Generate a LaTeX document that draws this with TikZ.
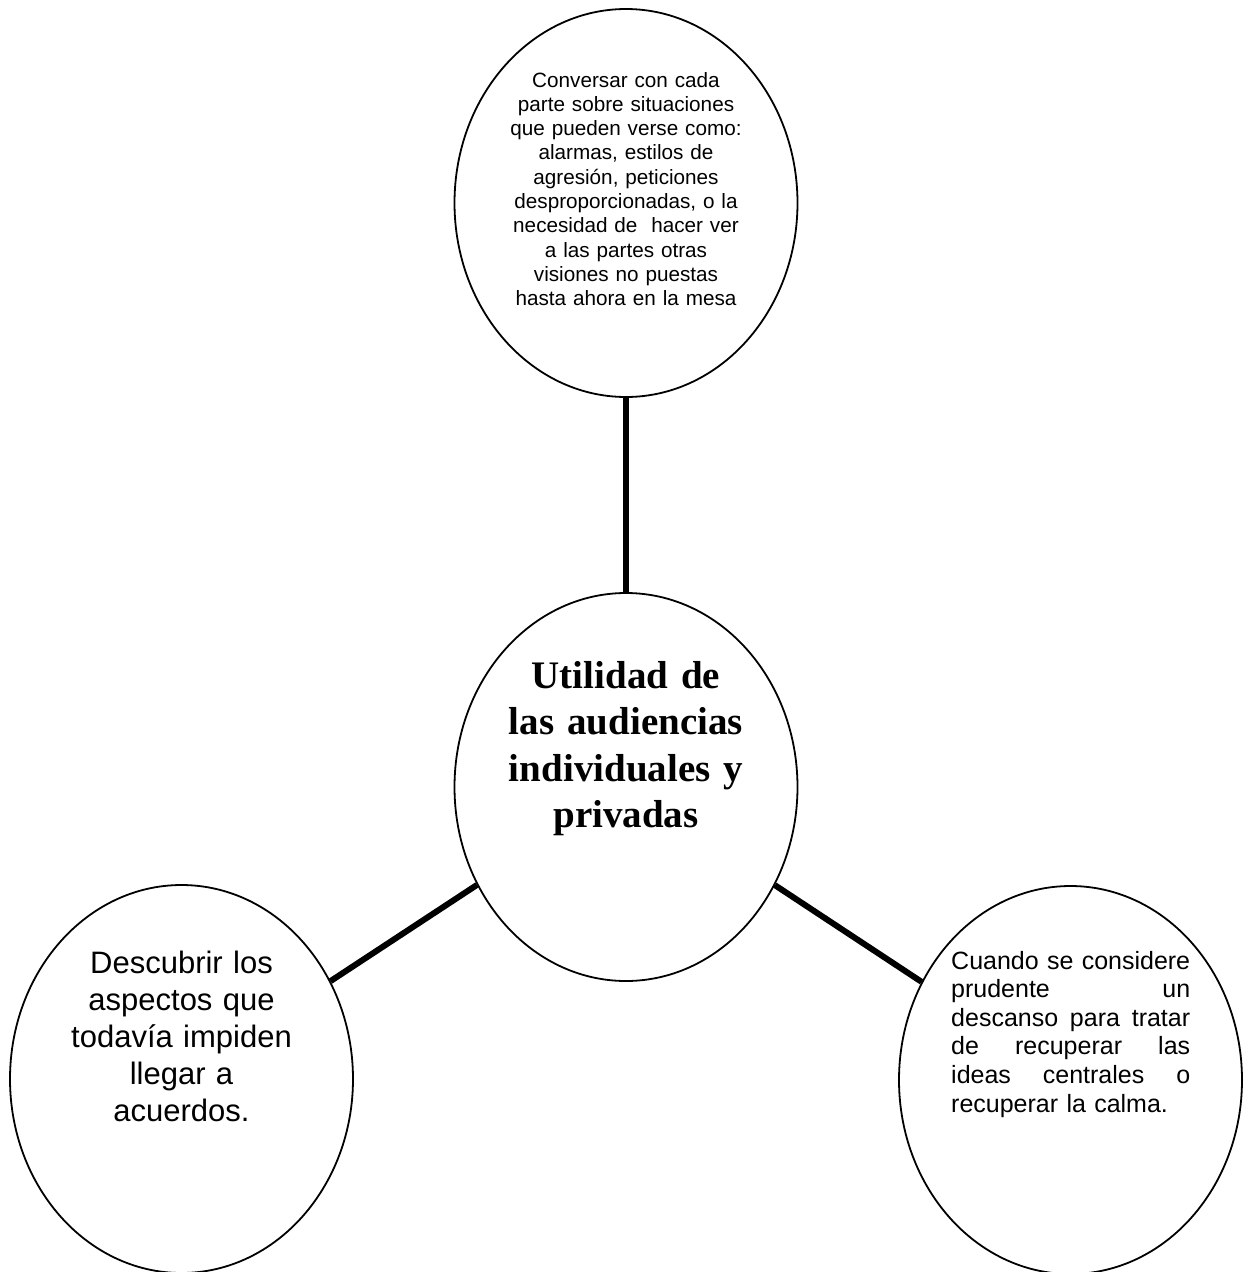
\documentclass[tikz,border=0pt]{standalone}
\usepackage{fontspec}
\setmainfont{Liberation Sans}
\newfontfamily\tnr{Liberation Serif}
\usetikzlibrary{shapes.geometric}
\begin{document}
\begin{tikzpicture}[x=1pt,y=-1pt,
  bubble/.style={ellipse, draw, line width=1.8pt, minimum width=343pt, minimum height=388pt, inner sep=0pt},
  link/.style={line width=6pt},
  txt/.style={inner sep=0pt, anchor=base, align=center}]
\useasboundingbox (0,0) rectangle (1251,1272);
\fill[white] (0,0) rectangle (1251,1272);
\node[bubble] (top) at (626,203) {};
\node[bubble] (mid) at (626,787) {};
\node[bubble] (left) at (181.5,1079) {};
\node[bubble] (right) at (1070.5,1080) {};
\draw[link] (top) -- (mid);
\draw[link] (mid) -- (left);
\draw[link] (mid) -- (right);
\node[txt, font=\fontsize{20.7}{24.3}\selectfont, text width=330pt] (ttext) at (626,87)
  {Conversar con cada\\ parte sobre situaciones\\ que pueden verse como:\\ alarmas, estilos de\\ agresión, peticiones\\ desproporcionadas, o la\\ necesidad de\ \ hacer ver\\ a las partes otras\\ visiones no puestas\\ hasta ahora en la mesa};
\node[txt, font=\tnr\bfseries\fontsize{39}{46.5}\selectfont, text width=330pt] (mtext) at (626,688)
  {Utilidad de\\ las audiencias\\ individuales y\\ privadas};
\node[txt, font=\fontsize{31}{37}\selectfont, text width=330pt] (ltext) at (181.5,973)
  {Descubrir los\\ aspectos que\\ todavía impiden\\ llegar a\\ acuerdos.};
\node[txt, anchor=base west, align=left, font=\fontsize{25}{28.6}\selectfont, text width=239pt] (rtext) at (951,969)
  {\makebox[239pt][s]{Cuando\hfill se\hfill considere}\\
   \makebox[239pt][s]{prudente\hfill un}\\
   \makebox[239pt][s]{descanso\hfill para\hfill tratar}\\
   \makebox[239pt][s]{de\hfill recuperar\hfill las}\\
   \makebox[239pt][s]{ideas\hfill centrales\hfill o}\\
   \makebox[239pt][l]{recuperar la calma.}};
\end{tikzpicture}
\end{document}
